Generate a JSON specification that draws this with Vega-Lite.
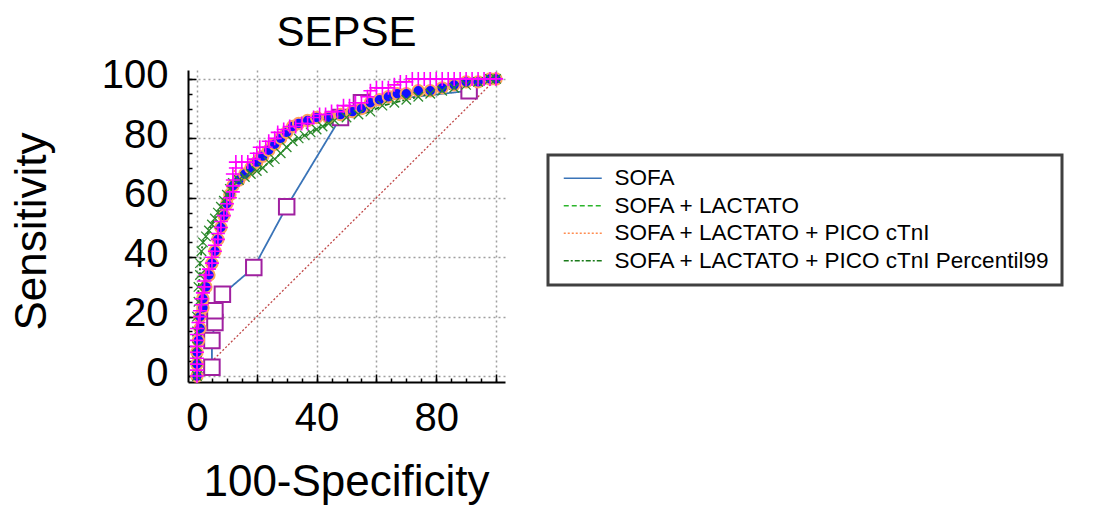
{
  "$schema": "https://vega.github.io/schema/vega-lite/v6.json",
  "width": 317,
  "height": 312,
  "autosize": {"type": "none"},
  "padding": {"left": 188, "top": 70, "right": 589, "bottom": 124},
  "background": "white",
  "config": {
    "font": "Liberation Sans",
    "view": {"stroke": null},
    "axis": {"labelFont": "Liberation Sans", "titleFont": "Liberation Sans", "labelColor": "black", "titleColor": "black", "titleFontWeight": "normal"}
  },
  "title": {"text": "SEPSE", "fontSize": 42, "fontWeight": "normal", "font": "Liberation Sans", "color": "black", "frame": "group", "anchor": "middle", "baseline": "alphabetic", "offset": -32},
  "datasets": {
    "diag": [{"fpr": 0, "tpr": 0}, {"fpr": 100, "tpr": 100}],
    "roc": [
      {"series": "SOFA", "fpr": 0, "tpr": 0},
      {"series": "SOFA", "fpr": 5, "tpr": 3},
      {"series": "SOFA", "fpr": 5, "tpr": 12},
      {"series": "SOFA", "fpr": 6, "tpr": 18},
      {"series": "SOFA", "fpr": 6, "tpr": 22},
      {"series": "SOFA", "fpr": 8.5, "tpr": 27.5},
      {"series": "SOFA", "fpr": 19, "tpr": 36.5},
      {"series": "SOFA", "fpr": 30, "tpr": 57},
      {"series": "SOFA", "fpr": 48, "tpr": 87},
      {"series": "SOFA", "fpr": 55, "tpr": 92},
      {"series": "SOFA", "fpr": 91, "tpr": 96},
      {"series": "SOFA", "fpr": 100, "tpr": 100},

      {"series": "SOFA + LACTATO", "fpr": 0, "tpr": 0},
      {"series": "SOFA + LACTATO", "fpr": 0, "tpr": 4},
      {"series": "SOFA + LACTATO", "fpr": 0, "tpr": 8},
      {"series": "SOFA + LACTATO", "fpr": 0.5, "tpr": 12},
      {"series": "SOFA + LACTATO", "fpr": 1, "tpr": 16},
      {"series": "SOFA + LACTATO", "fpr": 1, "tpr": 20},
      {"series": "SOFA + LACTATO", "fpr": 2, "tpr": 23},
      {"series": "SOFA + LACTATO", "fpr": 2, "tpr": 26},
      {"series": "SOFA + LACTATO", "fpr": 3, "tpr": 30},
      {"series": "SOFA + LACTATO", "fpr": 4, "tpr": 34},
      {"series": "SOFA + LACTATO", "fpr": 5, "tpr": 38},
      {"series": "SOFA + LACTATO", "fpr": 6, "tpr": 42},
      {"series": "SOFA + LACTATO", "fpr": 7, "tpr": 46},
      {"series": "SOFA + LACTATO", "fpr": 8, "tpr": 50},
      {"series": "SOFA + LACTATO", "fpr": 9, "tpr": 54},
      {"series": "SOFA + LACTATO", "fpr": 10, "tpr": 58},
      {"series": "SOFA + LACTATO", "fpr": 11, "tpr": 61},
      {"series": "SOFA + LACTATO", "fpr": 12, "tpr": 64},
      {"series": "SOFA + LACTATO", "fpr": 14, "tpr": 66},
      {"series": "SOFA + LACTATO", "fpr": 16, "tpr": 68},
      {"series": "SOFA + LACTATO", "fpr": 18, "tpr": 70},
      {"series": "SOFA + LACTATO", "fpr": 20, "tpr": 72},
      {"series": "SOFA + LACTATO", "fpr": 22, "tpr": 74},
      {"series": "SOFA + LACTATO", "fpr": 24, "tpr": 76},
      {"series": "SOFA + LACTATO", "fpr": 26, "tpr": 78},
      {"series": "SOFA + LACTATO", "fpr": 28, "tpr": 80},
      {"series": "SOFA + LACTATO", "fpr": 30, "tpr": 82},
      {"series": "SOFA + LACTATO", "fpr": 32, "tpr": 84},
      {"series": "SOFA + LACTATO", "fpr": 34, "tpr": 85},
      {"series": "SOFA + LACTATO", "fpr": 37, "tpr": 86},
      {"series": "SOFA + LACTATO", "fpr": 40, "tpr": 87},
      {"series": "SOFA + LACTATO", "fpr": 44, "tpr": 87},
      {"series": "SOFA + LACTATO", "fpr": 48, "tpr": 88},
      {"series": "SOFA + LACTATO", "fpr": 52, "tpr": 89},
      {"series": "SOFA + LACTATO", "fpr": 55, "tpr": 90},
      {"series": "SOFA + LACTATO", "fpr": 58, "tpr": 92},
      {"series": "SOFA + LACTATO", "fpr": 61, "tpr": 93},
      {"series": "SOFA + LACTATO", "fpr": 64, "tpr": 94},
      {"series": "SOFA + LACTATO", "fpr": 67, "tpr": 95},
      {"series": "SOFA + LACTATO", "fpr": 70, "tpr": 95},
      {"series": "SOFA + LACTATO", "fpr": 74, "tpr": 96},
      {"series": "SOFA + LACTATO", "fpr": 78, "tpr": 96},
      {"series": "SOFA + LACTATO", "fpr": 82, "tpr": 97},
      {"series": "SOFA + LACTATO", "fpr": 86, "tpr": 98},
      {"series": "SOFA + LACTATO", "fpr": 90, "tpr": 99},
      {"series": "SOFA + LACTATO", "fpr": 94, "tpr": 99},
      {"series": "SOFA + LACTATO", "fpr": 98, "tpr": 100},
      {"series": "SOFA + LACTATO", "fpr": 100, "tpr": 100},

      {"series": "SOFA + LACTATO + PICO cTnI", "fpr": 0, "tpr": 0},
      {"series": "SOFA + LACTATO + PICO cTnI", "fpr": 0, "tpr": 2},
      {"series": "SOFA + LACTATO + PICO cTnI", "fpr": 0, "tpr": 4},
      {"series": "SOFA + LACTATO + PICO cTnI", "fpr": 0, "tpr": 6},
      {"series": "SOFA + LACTATO + PICO cTnI", "fpr": 0, "tpr": 8},
      {"series": "SOFA + LACTATO + PICO cTnI", "fpr": 0, "tpr": 10},
      {"series": "SOFA + LACTATO + PICO cTnI", "fpr": 0, "tpr": 12},
      {"series": "SOFA + LACTATO + PICO cTnI", "fpr": 0, "tpr": 14},
      {"series": "SOFA + LACTATO + PICO cTnI", "fpr": 0, "tpr": 16},
      {"series": "SOFA + LACTATO + PICO cTnI", "fpr": 0.5, "tpr": 18},
      {"series": "SOFA + LACTATO + PICO cTnI", "fpr": 1, "tpr": 20},
      {"series": "SOFA + LACTATO + PICO cTnI", "fpr": 1, "tpr": 22},
      {"series": "SOFA + LACTATO + PICO cTnI", "fpr": 1.5, "tpr": 24},
      {"series": "SOFA + LACTATO + PICO cTnI", "fpr": 1.5, "tpr": 26},
      {"series": "SOFA + LACTATO + PICO cTnI", "fpr": 2, "tpr": 28},
      {"series": "SOFA + LACTATO + PICO cTnI", "fpr": 2.5, "tpr": 30},
      {"series": "SOFA + LACTATO + PICO cTnI", "fpr": 2.5, "tpr": 32},
      {"series": "SOFA + LACTATO + PICO cTnI", "fpr": 3, "tpr": 34},
      {"series": "SOFA + LACTATO + PICO cTnI", "fpr": 4, "tpr": 36},
      {"series": "SOFA + LACTATO + PICO cTnI", "fpr": 5, "tpr": 38},
      {"series": "SOFA + LACTATO + PICO cTnI", "fpr": 5, "tpr": 40},
      {"series": "SOFA + LACTATO + PICO cTnI", "fpr": 6, "tpr": 42},
      {"series": "SOFA + LACTATO + PICO cTnI", "fpr": 6, "tpr": 44},
      {"series": "SOFA + LACTATO + PICO cTnI", "fpr": 7, "tpr": 46},
      {"series": "SOFA + LACTATO + PICO cTnI", "fpr": 7, "tpr": 48},
      {"series": "SOFA + LACTATO + PICO cTnI", "fpr": 8, "tpr": 50},
      {"series": "SOFA + LACTATO + PICO cTnI", "fpr": 8, "tpr": 52},
      {"series": "SOFA + LACTATO + PICO cTnI", "fpr": 9, "tpr": 54},
      {"series": "SOFA + LACTATO + PICO cTnI", "fpr": 10, "tpr": 56},
      {"series": "SOFA + LACTATO + PICO cTnI", "fpr": 10, "tpr": 58},
      {"series": "SOFA + LACTATO + PICO cTnI", "fpr": 11, "tpr": 60},
      {"series": "SOFA + LACTATO + PICO cTnI", "fpr": 12, "tpr": 62},
      {"series": "SOFA + LACTATO + PICO cTnI", "fpr": 12, "tpr": 64},
      {"series": "SOFA + LACTATO + PICO cTnI", "fpr": 12, "tpr": 66},
      {"series": "SOFA + LACTATO + PICO cTnI", "fpr": 12, "tpr": 68},
      {"series": "SOFA + LACTATO + PICO cTnI", "fpr": 13, "tpr": 70},
      {"series": "SOFA + LACTATO + PICO cTnI", "fpr": 13, "tpr": 72},
      {"series": "SOFA + LACTATO + PICO cTnI", "fpr": 15, "tpr": 72},
      {"series": "SOFA + LACTATO + PICO cTnI", "fpr": 17, "tpr": 72},
      {"series": "SOFA + LACTATO + PICO cTnI", "fpr": 19, "tpr": 73},
      {"series": "SOFA + LACTATO + PICO cTnI", "fpr": 20, "tpr": 75},
      {"series": "SOFA + LACTATO + PICO cTnI", "fpr": 21, "tpr": 77},
      {"series": "SOFA + LACTATO + PICO cTnI", "fpr": 23, "tpr": 77},
      {"series": "SOFA + LACTATO + PICO cTnI", "fpr": 24, "tpr": 79},
      {"series": "SOFA + LACTATO + PICO cTnI", "fpr": 26, "tpr": 80},
      {"series": "SOFA + LACTATO + PICO cTnI", "fpr": 27, "tpr": 82},
      {"series": "SOFA + LACTATO + PICO cTnI", "fpr": 29, "tpr": 83},
      {"series": "SOFA + LACTATO + PICO cTnI", "fpr": 31, "tpr": 84},
      {"series": "SOFA + LACTATO + PICO cTnI", "fpr": 33, "tpr": 84},
      {"series": "SOFA + LACTATO + PICO cTnI", "fpr": 35, "tpr": 85},
      {"series": "SOFA + LACTATO + PICO cTnI", "fpr": 37, "tpr": 85},
      {"series": "SOFA + LACTATO + PICO cTnI", "fpr": 39, "tpr": 87},
      {"series": "SOFA + LACTATO + PICO cTnI", "fpr": 41, "tpr": 88},
      {"series": "SOFA + LACTATO + PICO cTnI", "fpr": 43, "tpr": 88},
      {"series": "SOFA + LACTATO + PICO cTnI", "fpr": 45, "tpr": 89},
      {"series": "SOFA + LACTATO + PICO cTnI", "fpr": 47, "tpr": 89},
      {"series": "SOFA + LACTATO + PICO cTnI", "fpr": 49, "tpr": 91},
      {"series": "SOFA + LACTATO + PICO cTnI", "fpr": 51, "tpr": 91},
      {"series": "SOFA + LACTATO + PICO cTnI", "fpr": 53, "tpr": 92},
      {"series": "SOFA + LACTATO + PICO cTnI", "fpr": 55, "tpr": 92},
      {"series": "SOFA + LACTATO + PICO cTnI", "fpr": 57, "tpr": 94},
      {"series": "SOFA + LACTATO + PICO cTnI", "fpr": 58, "tpr": 96},
      {"series": "SOFA + LACTATO + PICO cTnI", "fpr": 60, "tpr": 97},
      {"series": "SOFA + LACTATO + PICO cTnI", "fpr": 62, "tpr": 97},
      {"series": "SOFA + LACTATO + PICO cTnI", "fpr": 64, "tpr": 97},
      {"series": "SOFA + LACTATO + PICO cTnI", "fpr": 66, "tpr": 98},
      {"series": "SOFA + LACTATO + PICO cTnI", "fpr": 68, "tpr": 99},
      {"series": "SOFA + LACTATO + PICO cTnI", "fpr": 70, "tpr": 99},
      {"series": "SOFA + LACTATO + PICO cTnI", "fpr": 72, "tpr": 100},
      {"series": "SOFA + LACTATO + PICO cTnI", "fpr": 74, "tpr": 100},
      {"series": "SOFA + LACTATO + PICO cTnI", "fpr": 76, "tpr": 100},
      {"series": "SOFA + LACTATO + PICO cTnI", "fpr": 78, "tpr": 100},
      {"series": "SOFA + LACTATO + PICO cTnI", "fpr": 80, "tpr": 100},
      {"series": "SOFA + LACTATO + PICO cTnI", "fpr": 82, "tpr": 100},
      {"series": "SOFA + LACTATO + PICO cTnI", "fpr": 84, "tpr": 100},
      {"series": "SOFA + LACTATO + PICO cTnI", "fpr": 86, "tpr": 100},
      {"series": "SOFA + LACTATO + PICO cTnI", "fpr": 88, "tpr": 100},
      {"series": "SOFA + LACTATO + PICO cTnI", "fpr": 90, "tpr": 100},
      {"series": "SOFA + LACTATO + PICO cTnI", "fpr": 92, "tpr": 100},
      {"series": "SOFA + LACTATO + PICO cTnI", "fpr": 94, "tpr": 100},
      {"series": "SOFA + LACTATO + PICO cTnI", "fpr": 96, "tpr": 100},
      {"series": "SOFA + LACTATO + PICO cTnI", "fpr": 98, "tpr": 100},
      {"series": "SOFA + LACTATO + PICO cTnI", "fpr": 100, "tpr": 100},

      {"series": "SOFA + LACTATO + PICO cTnI Percentil99", "fpr": 0, "tpr": 0},
      {"series": "SOFA + LACTATO + PICO cTnI Percentil99", "fpr": 0, "tpr": 5},
      {"series": "SOFA + LACTATO + PICO cTnI Percentil99", "fpr": 0, "tpr": 10},
      {"series": "SOFA + LACTATO + PICO cTnI Percentil99", "fpr": 0, "tpr": 15},
      {"series": "SOFA + LACTATO + PICO cTnI Percentil99", "fpr": 0, "tpr": 20},
      {"series": "SOFA + LACTATO + PICO cTnI Percentil99", "fpr": 0.5, "tpr": 25},
      {"series": "SOFA + LACTATO + PICO cTnI Percentil99", "fpr": 0.5, "tpr": 30},
      {"series": "SOFA + LACTATO + PICO cTnI Percentil99", "fpr": 1, "tpr": 34},
      {"series": "SOFA + LACTATO + PICO cTnI Percentil99", "fpr": 1, "tpr": 38},
      {"series": "SOFA + LACTATO + PICO cTnI Percentil99", "fpr": 1.5, "tpr": 42},
      {"series": "SOFA + LACTATO + PICO cTnI Percentil99", "fpr": 2, "tpr": 45},
      {"series": "SOFA + LACTATO + PICO cTnI Percentil99", "fpr": 3, "tpr": 47},
      {"series": "SOFA + LACTATO + PICO cTnI Percentil99", "fpr": 4, "tpr": 49},
      {"series": "SOFA + LACTATO + PICO cTnI Percentil99", "fpr": 5, "tpr": 51},
      {"series": "SOFA + LACTATO + PICO cTnI Percentil99", "fpr": 6, "tpr": 53},
      {"series": "SOFA + LACTATO + PICO cTnI Percentil99", "fpr": 7, "tpr": 55},
      {"series": "SOFA + LACTATO + PICO cTnI Percentil99", "fpr": 8, "tpr": 57},
      {"series": "SOFA + LACTATO + PICO cTnI Percentil99", "fpr": 9, "tpr": 59},
      {"series": "SOFA + LACTATO + PICO cTnI Percentil99", "fpr": 10, "tpr": 61},
      {"series": "SOFA + LACTATO + PICO cTnI Percentil99", "fpr": 11, "tpr": 63},
      {"series": "SOFA + LACTATO + PICO cTnI Percentil99", "fpr": 12, "tpr": 65},
      {"series": "SOFA + LACTATO + PICO cTnI Percentil99", "fpr": 14, "tpr": 66},
      {"series": "SOFA + LACTATO + PICO cTnI Percentil99", "fpr": 16, "tpr": 67},
      {"series": "SOFA + LACTATO + PICO cTnI Percentil99", "fpr": 18, "tpr": 68},
      {"series": "SOFA + LACTATO + PICO cTnI Percentil99", "fpr": 20, "tpr": 69},
      {"series": "SOFA + LACTATO + PICO cTnI Percentil99", "fpr": 22, "tpr": 70},
      {"series": "SOFA + LACTATO + PICO cTnI Percentil99", "fpr": 24, "tpr": 72},
      {"series": "SOFA + LACTATO + PICO cTnI Percentil99", "fpr": 26, "tpr": 73},
      {"series": "SOFA + LACTATO + PICO cTnI Percentil99", "fpr": 28, "tpr": 75},
      {"series": "SOFA + LACTATO + PICO cTnI Percentil99", "fpr": 30, "tpr": 77},
      {"series": "SOFA + LACTATO + PICO cTnI Percentil99", "fpr": 32, "tpr": 79},
      {"series": "SOFA + LACTATO + PICO cTnI Percentil99", "fpr": 34, "tpr": 80},
      {"series": "SOFA + LACTATO + PICO cTnI Percentil99", "fpr": 36, "tpr": 81},
      {"series": "SOFA + LACTATO + PICO cTnI Percentil99", "fpr": 38, "tpr": 82},
      {"series": "SOFA + LACTATO + PICO cTnI Percentil99", "fpr": 40, "tpr": 83},
      {"series": "SOFA + LACTATO + PICO cTnI Percentil99", "fpr": 42, "tpr": 84},
      {"series": "SOFA + LACTATO + PICO cTnI Percentil99", "fpr": 44, "tpr": 85},
      {"series": "SOFA + LACTATO + PICO cTnI Percentil99", "fpr": 46, "tpr": 86},
      {"series": "SOFA + LACTATO + PICO cTnI Percentil99", "fpr": 50, "tpr": 87},
      {"series": "SOFA + LACTATO + PICO cTnI Percentil99", "fpr": 54, "tpr": 88},
      {"series": "SOFA + LACTATO + PICO cTnI Percentil99", "fpr": 58, "tpr": 89},
      {"series": "SOFA + LACTATO + PICO cTnI Percentil99", "fpr": 62, "tpr": 91},
      {"series": "SOFA + LACTATO + PICO cTnI Percentil99", "fpr": 66, "tpr": 92},
      {"series": "SOFA + LACTATO + PICO cTnI Percentil99", "fpr": 70, "tpr": 93},
      {"series": "SOFA + LACTATO + PICO cTnI Percentil99", "fpr": 74, "tpr": 94},
      {"series": "SOFA + LACTATO + PICO cTnI Percentil99", "fpr": 78, "tpr": 95},
      {"series": "SOFA + LACTATO + PICO cTnI Percentil99", "fpr": 82, "tpr": 96},
      {"series": "SOFA + LACTATO + PICO cTnI Percentil99", "fpr": 86, "tpr": 97},
      {"series": "SOFA + LACTATO + PICO cTnI Percentil99", "fpr": 90, "tpr": 98},
      {"series": "SOFA + LACTATO + PICO cTnI Percentil99", "fpr": 94, "tpr": 99},
      {"series": "SOFA + LACTATO + PICO cTnI Percentil99", "fpr": 98, "tpr": 100},
      {"series": "SOFA + LACTATO + PICO cTnI Percentil99", "fpr": 100, "tpr": 100}
    ]
  },
  "resolve": {"axis": {"x": "independent", "y": "independent"}},
  "layer": [
    {
      "data": {"name": "diag"},
      "mark": {"type": "line", "color": "#c04848", "strokeWidth": 1.3, "strokeDash": [2, 2]},
      "encoding": {
        "x": {"field": "fpr", "type": "quantitative", "scale": {"domain": [-3, 103], "nice": false, "zero": false},
          "axis": {"orient": "bottom", "values": [0,5,10,15,20,25,30,35,40,45,50,55,60,65,70,75,80,85,90,95,100], "labels": false, "title": null, "tickSize": -4, "tickColor": "black", "tickWidth": 1.5, "domainColor": "black", "domainWidth": 2, "grid": false}},
        "y": {"field": "tpr", "type": "quantitative", "scale": {"domain": [-2, 103], "nice": false, "zero": false},
          "axis": {"orient": "left", "values": [0,5,10,15,20,25,30,35,40,45,50,55,60,65,70,75,80,85,90,95,100], "labels": false, "title": null, "tickSize": -4, "tickColor": "black", "tickWidth": 1.5, "domainColor": "black", "domainWidth": 2, "grid": false}}
      }
    },
    {
      "data": {"name": "roc"},
      "mark": {"type": "line", "strokeWidth": 1.8},
      "encoding": {
        "x": {"field": "fpr", "type": "quantitative",
          "axis": {"orient": "bottom", "values": [0,20,40,60,80,100], "labelExpr": "datum.value % 40 == 0 ? datum.label : ''", "labelFontSize": 40, "labelPadding": 24, "labelBaseline": "top", "tickSize": -8, "tickColor": "black", "tickWidth": 1.5, "domain": false,
            "grid": true, "gridColor": "#a0a0a0", "gridDash": [2, 3], "gridWidth": 1.5,
            "title": "100-Specificity", "titleFontSize": 44, "titleBaseline": "alphabetic", "titleAlign": "center", "titleX": 158, "titleY": 113}},
        "y": {"field": "tpr", "type": "quantitative",
          "axis": {"orient": "left", "values": [0,20,40,60,80,100], "labelFontSize": 40, "labelPadding": 28, "labelOffset": -3, "labelBaseline": "middle", "tickSize": -8, "tickColor": "black", "tickWidth": 1.5, "domain": false,
            "grid": true, "gridColor": "#a0a0a0", "gridDash": [2, 3], "gridWidth": 1.5,
            "title": "Sensitivity", "titleFontSize": 44, "titleBaseline": "alphabetic", "titleAlign": "center", "titleAngle": -90, "titleX": -143, "titleY": 161}},
        "color": {"field": "series", "type": "nominal",
          "scale": {"domain": ["SOFA", "SOFA + LACTATO", "SOFA + LACTATO + PICO cTnI", "SOFA + LACTATO + PICO cTnI Percentil99"], "range": ["#3a74b8", "#2bb52b", "#ff8c50", "#1a7a1a"]},
          "legend": {"orient": "none", "legendX": 360, "legendY": 85, "title": null, "symbolType": "M-2,0L2,0", "symbolSize": 361, "symbolOffset": 11.5, "symbolStrokeWidth": 1.5, "labelFontSize": 22.5, "labelFont": "Liberation Sans", "labelColor": "black", "labelOffset": 20.5, "labelLimit": 600, "rowPadding": 4.5, "padding": 12, "fillColor": "white", "strokeColor": "#404040",
            "encode": {"legend": {"update": {"strokeWidth": {"value": 3}}}}}},
        "strokeDash": {"field": "series", "type": "nominal",
          "scale": {"domain": ["SOFA", "SOFA + LACTATO", "SOFA + LACTATO + PICO cTnI", "SOFA + LACTATO + PICO cTnI Percentil99"], "range": [[1, 0], [5, 3], [2, 2], [5, 2, 2, 2]]}},
        "order": {"value": null}
      }
    },
    {
      "data": {"name": "roc"},
      "transform": [{"filter": "datum.series == 'SOFA' && datum.fpr > 0 && datum.fpr < 100"}],
      "mark": {"type": "point", "shape": "square", "size": 240, "filled": true, "fill": "white", "stroke": "#a020a0", "strokeWidth": 2, "opacity": 1},
      "encoding": {"x": {"field": "fpr", "type": "quantitative", "axis": null}, "y": {"field": "tpr", "type": "quantitative", "axis": null}}
    },
    {
      "data": {"name": "roc"},
      "transform": [{"filter": "datum.series == 'SOFA + LACTATO'"}],
      "mark": {"type": "point", "shape": "circle", "size": 130, "filled": true, "fill": "#1010ff", "stroke": "#ffa060", "strokeWidth": 2, "opacity": 1},
      "encoding": {"x": {"field": "fpr", "type": "quantitative", "axis": null}, "y": {"field": "tpr", "type": "quantitative", "axis": null}}
    },
    {
      "data": {"name": "roc"},
      "transform": [{"filter": "datum.series == 'SOFA + LACTATO + PICO cTnI Percentil99'"}],
      "mark": {"type": "point", "shape": "M-1,-1L1,1M-1,1L1,-1", "size": 90, "filled": false, "stroke": "#2e8b2e", "strokeWidth": 1.3, "opacity": 1},
      "encoding": {"x": {"field": "fpr", "type": "quantitative", "axis": null}, "y": {"field": "tpr", "type": "quantitative", "axis": null}}
    },
    {
      "data": {"name": "roc"},
      "transform": [{"filter": "datum.series == 'SOFA + LACTATO + PICO cTnI'"}],
      "mark": {"type": "point", "shape": "M-1,0L1,0M0,-1L0,1", "size": 196, "filled": false, "stroke": "#ff00ff", "strokeWidth": 1.6, "opacity": 1},
      "encoding": {"x": {"field": "fpr", "type": "quantitative", "axis": null}, "y": {"field": "tpr", "type": "quantitative", "axis": null}}
    }
  ]
}
